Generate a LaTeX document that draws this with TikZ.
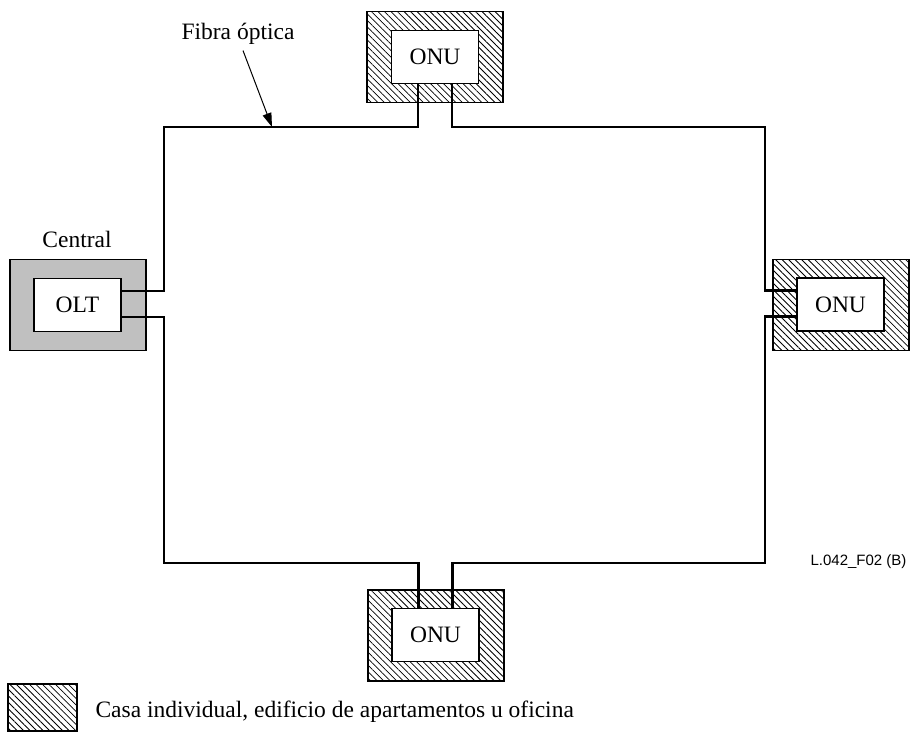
\documentclass[tikz,border=0pt]{standalone}
\usepackage{fontspec}
\setmainfont{Liberation Serif}
\setsansfont{Liberation Sans}
\usetikzlibrary{arrows.meta,calc,patterns.meta}
\definecolor{ponGray}{HTML}{C0C0C0}
\definecolor{ponInk}{HTML}{000000}
\begin{document}
\begin{tikzpicture}[x=1pt,y=-1pt,>={Triangle[length=14pt,width=9pt]},line join=miter]
\path[fill=white,use as bounding box] (0,0) rectangle (916,733);
\tikzset{wire/.style={draw=ponInk,line width=2.1pt},frame/.style={draw=ponInk,line width=1.8pt,minimum width=136pt,minimum height=91pt,inner sep=0pt},site/.style={frame,pattern={Lines[angle=-45,distance=4.6pt,line width=0.8pt]}},office/.style={frame,fill=ponGray},unit/.style={draw=ponInk,fill=white,line width=1.8pt,minimum width=87pt,minimum height=53pt,inner sep=0pt,font=\fontsize{23.5}{28}\selectfont},lbl/.style={font=\fontsize{23.5}{28}\selectfont}}
\node[office] (centralBox) at (78,305) {};
\node[unit] (olt) at (77.5,305) {OLT};
\node[lbl,anchor=base] (central) at (77,247) {Central};
\node[site] (siteT) at (435,57) {}; \node[unit] (onuT) at (435,57) {ONU};
\node[site] (siteR) at (841,305) {}; \node[unit] (onuR) at (840.5,304.5) {ONU};
\node[site] (siteB) at (436,635.5) {}; \node[unit] (onuB) at (435.5,635) {ONU};
\coordinate (tl) at (164,127); \coordinate (tr) at (765,127);
\coordinate (bl) at (164,563); \coordinate (br) at (765,563);
\draw[wire] ([yshift=14pt]olt.east) -| (tl) -| ([xshift=-17pt]onuT.south);
\draw[wire] ([xshift=17pt]onuT.south) |- (tr) |- ([yshift=14pt]onuR.west);
\draw[wire] ([yshift=-12pt]olt.east) -| (bl) -| ([xshift=-17pt]onuB.north);
\draw[wire] ([xshift=17pt]onuB.north) |- (br) |- ([yshift=-12pt]onuR.west);
\node[lbl,anchor=base] (fibra) at (238,40) {Fibra óptica};
\coordinate (fibraTip) at (272,127);
\draw[ponInk,line width=1pt,->] ([xshift=5pt,yshift=-2pt]fibra.south) -- (fibraTip);
\node[font=\sffamily\fontsize{15}{18}\selectfont,anchor=base east] (figId) at (910,565) {L.042\_F02 (B)};
\node[site,minimum width=69pt,minimum height=47pt] (key) at (42.5,707.5) {};
\node[lbl,anchor=base west] (keyText) at (92,717) {Casa individual, edificio de apartamentos u oficina};
\end{tikzpicture}
\end{document}
